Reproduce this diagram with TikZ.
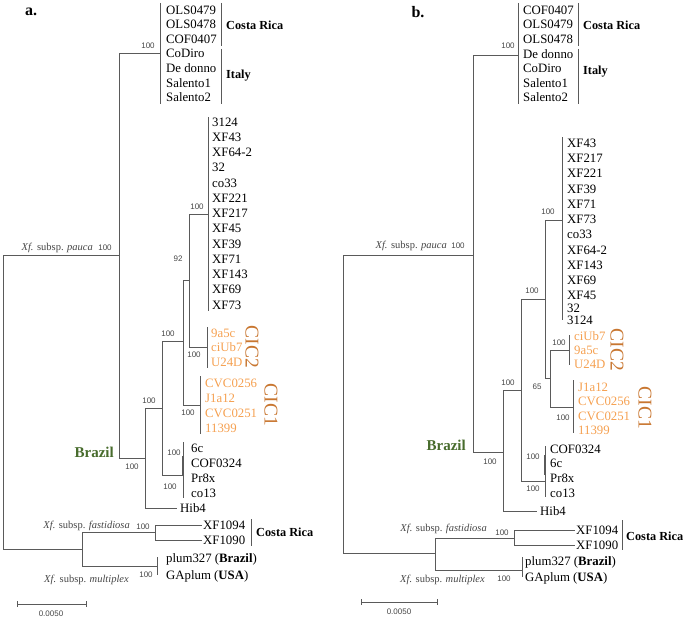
\documentclass[tikz,border=0pt]{standalone}
\usepackage{fontspec}
\setmainfont{Liberation Serif}
\newfontfamily\numfont{Liberation Sans}
\definecolor{linec}{RGB}{90,90,90}
\definecolor{bootc}{RGB}{70,70,70}
\definecolor{orangeL}{RGB}{245,160,80}
\definecolor{orangeD}{RGB}{200,118,48}
\definecolor{greenB}{RGB}{72,108,45}
\begin{document}
\begin{tikzpicture}[x=1pt,y=-1pt,
  lnk/.style={draw=linec, line width=1pt},
  leaf/.style={anchor=west, inner sep=0pt, font=\fontsize{12.8}{14}\selectfont, text=black},
  oleaf/.style={leaf, text=orangeL},
  boot/.style={inner sep=0pt, font=\numfont\fontsize{8}{9}\selectfont, text=bootc},
  grp/.style={anchor=west, inner sep=0pt, font=\bfseries\fontsize{12.3}{14}\selectfont},
  cic/.style={rotate=-90, inner sep=0pt, font=\fontsize{19.5}{20}\selectfont, text=orangeD},
  subsp/.style={anchor=east, inner sep=0pt, font=\fontsize{10.5}{12}\selectfont, text=bootc},
  brz/.style={anchor=east, inner sep=0pt, font=\bfseries\fontsize{15}{17}\selectfont, text=greenB},
  panel/.style={inner sep=0pt, font=\bfseries\fontsize{16}{18}\selectfont},
  scl/.style={inner sep=0pt, font=\numfont\fontsize{8}{9}\selectfont, text=bootc}]
\useasboundingbox (0,0) rectangle (685,618);

% ================= PANEL A =================
\node[panel] (alab) at (31,12) {a.};
% tree nodes
\coordinate (aRt) at (3,255);
\coordinate (aRb) at (3,549);
\coordinate (aP) at (119,255);
\coordinate (aTop) at (160,54);
\coordinate (aBr) at (145,458);
\coordinate (a1) at (162,408);
\coordinate (aHib) at (177,508);
\coordinate (a92) at (183,341);
\coordinate (a6c) at (183,475);
\coordinate (a2) at (189,280);
\coordinate (aCIC1) at (200,405);
\coordinate (aXF) at (208,214);
\coordinate (aCIC2) at (207,347);
\coordinate (aBot) at (82,549);
\coordinate (aFas) at (155,532);
\coordinate (aMul) at (157,566);
\coordinate (aX94) at (202,525);
\coordinate (aX90) at (202,540);
% branches
\draw[lnk] (aRt) -- (aRb);
\draw[lnk] (aRt) -- (aP);
\draw[lnk] (aRb) -- (aBot);
\draw[lnk] (aP) |- (aTop);
\draw[lnk] (aP) |- (aBr);
\draw[lnk] (aBr) |- (a1);
\draw[lnk] (aBr) |- (aHib);
\draw[lnk] (a1) |- (a92);
\draw[lnk] (a1) |- (a6c);
\draw[lnk] (a92) |- (a2);
\draw[lnk] (a92) |- (aCIC1);
\draw[lnk] (a2) |- (aXF);
\draw[lnk] (a2) |- (aCIC2);
\draw[lnk] (aBot) |- (aFas);
\draw[lnk] (aBot) |- (aMul);
\draw[lnk] (aFas) |- (aX94);
\draw[lnk] (aFas) |- (aX90);
% tip bars
\draw[lnk] (160,3) -- (160,104);
\draw[lnk] (208,117) -- (208,311);
\draw[lnk] (207,327) -- (207,368);
\draw[lnk] (200,376) -- (200,434);
\draw[lnk] (183,442) -- (183,498);
\draw[draw=linec, line width=2pt] (183,456) -- (183,476);
\draw[lnk] (157,557) -- (157,575);
% group bars
\draw[lnk] (221,3) -- (221,46);
\draw[lnk] (221,49) -- (221,104);
\draw[lnk] (251,519) -- (251,546);
% top labels
\foreach \t [count=\i from 0] in {OLS0479,OLS0478,COF0407,CoDiro,De donno,Salento1,Salento2}
  \node[leaf] (atop\i) at (166,{10+14.6*\i}) {\t};
\node[grp] (aCR) at (226,25) {Costa Rica};
\node[grp] (aIT) at (226,76) {Italy};
\node[boot] (ab1) at (148,46) {100};
% XF list
\foreach \t [count=\i from 0] in {3124,XF43,XF64-2,32,co33,XF221,XF217,XF45,XF39,XF71,XF143,XF69,XF73}
  \node[leaf] (axf\i) at (212,{122+15.25*\i}) {\t};
\node[boot] (ab2) at (197,207) {100};
\node[boot] (ab3) at (178,259) {92};
% CIC2
\foreach \t [count=\i from 0] in {9a5c,ciUb7,U24D}
  \node[oleaf] (ac2\i) at (211,{333+14.5*\i}) {\t};
\node[boot] (ab4) at (194,355) {100};
\node[cic] (aC2) at (252,347) {CIC2};
% CIC1
\foreach \t [count=\i from 0] in {CVC0256,J1a12,CVC0251,11399}
  \node[oleaf] (ac1\i) at (205,{383+15*\i}) {\t};
\node[boot] (ab5) at (188,413) {100};
\node[cic] (aC1) at (271,405) {CIC1};
\node[boot] (ab6) at (168,334) {100};
% 6c group
\foreach \t [count=\i from 0] in {6c,COF0324,Pr8x,co13}
  \node[leaf] (a6\i) at (191,{448+15*\i}) {\t};
\node[boot] (ab7) at (174,453) {100};
\node[boot] (ab8) at (170,487) {100};
\node[boot] (ab9) at (149,401) {100};
\node[boot] (ab10) at (132,467) {100};
\node[brz] (aBrz) at (114,452) {Brazil};
\node[leaf] (aHibl) at (180,508) {Hib4};
\node[subsp] (apau) at (93,248) {\textit{Xf.} subsp. \textit{pauca}};
\node[boot] (ab11) at (105,248) {100};
% bottom
\node[subsp] (afas) at (130,526) {\textit{Xf.} subsp. \textit{fastidiosa}};
\node[boot] (ab12) at (143,527) {100};
\node[leaf] (ax94l) at (203,525) {XF1094};
\node[leaf] (ax90l) at (203,540) {XF1090};
\node[grp] (aCR2) at (256,532) {Costa Rica};
\node[leaf] (aplum) at (166,559) {plum327 (\textbf{Brazil})};
\node[leaf] (agap) at (166,576) {GAplum (\textbf{USA})};
\node[subsp] (amul) at (129,580) {\textit{Xf.} subsp. \textit{multiplex}};
\node[boot] (ab13) at (146,575) {100};
% scale
\coordinate (asL) at (17,604);
\coordinate (asR) at (86,604);
\draw[lnk] (asL) -- (asR);
\draw[lnk] (17,601) -- (17,607);
\draw[lnk] (86,601) -- (86,607);
\node[scl] (asc) at (51,614) {0.0050};

% ================= PANEL B =================
\node[panel] (blab) at (418,12) {b.};
\coordinate (bRt) at (343,255);
\coordinate (bRb) at (343,553);
\coordinate (bP) at (473,255);
\coordinate (bTop) at (518,56);
\coordinate (bBr) at (503,452);
\coordinate (b1) at (521,390);
\coordinate (bHib) at (537,511);
\coordinate (bA) at (545,299);
\coordinate (b6c) at (545,481);
\coordinate (bXF) at (562,220);
\coordinate (bB) at (550,378);
\coordinate (bCIC2) at (569,350);
\coordinate (bCIC1) at (573,407);
\coordinate (bBot) at (435,553);
\coordinate (bFas) at (514,538);
\coordinate (bMul) at (522,570);
\coordinate (bX94) at (575,530);
\coordinate (bX90) at (575,545);
\draw[lnk] (bRt) -- (bRb);
\draw[lnk] (bRt) -- (bP);
\draw[lnk] (bRb) -- (bBot);
\draw[lnk] (bP) |- (bTop);
\draw[lnk] (bP) |- (bBr);
\draw[lnk] (bBr) |- (b1);
\draw[lnk] (bBr) |- (bHib);
\draw[lnk] (b1) |- (bA);
\draw[lnk] (b1) |- (b6c);
\draw[lnk] (bA) |- (bXF);
\draw[lnk] (bA) |- (bB);
\draw[lnk] (bB) |- (bCIC2);
\draw[lnk] (bB) |- (bCIC1);
\draw[lnk] (bBot) |- (bFas);
\draw[lnk] (bBot) |- (bMul);
\draw[lnk] (bFas) |- (bX94);
\draw[lnk] (bFas) |- (bX90);
% tip bars
\draw[lnk] (518,3) -- (518,104);
\draw[lnk] (562,137) -- (562,320);
\draw[lnk] (569,335) -- (569,365);
\draw[lnk] (573,380) -- (573,433);
\draw[lnk] (545,446) -- (545,497);
\draw[draw=linec, line width=2pt] (545,455) -- (545,475);
\draw[lnk] (522,557) -- (522,577);
% group bars
\draw[lnk] (578,3) -- (578,46);
\draw[lnk] (578,49) -- (578,104);
\draw[lnk] (622,520) -- (622,550);
% top labels
\foreach \t [count=\i from 0] in {COF0407,OLS0479,OLS0478,De donno,CoDiro,Salento1,Salento2}
  \node[leaf] (btop\i) at (523,{10+14.6*\i}) {\t};
\node[grp] (bCR) at (583,25) {Costa Rica};
\node[grp] (bIT) at (583,72) {Italy};
\node[boot] (bb1) at (508,46) {100};
% XF list
\foreach \t/\yy [count=\i from 0] in {XF43/143,XF217/158,XF221/173,XF39/189,XF71/204,XF73/219,co33/234,XF64-2/250,XF143/265,XF69/280,XF45/295,32/308,3124/320}
  \node[leaf] (bxf\i) at (567,\yy) {\t};
\node[boot] (bb2) at (548,212) {100};
% CIC2
\foreach \t [count=\i from 0] in {ciUb7,9a5c,U24D}
  \node[oleaf] (bc2\i) at (574,{336+14*\i}) {\t};
\node[boot] (bb3) at (559,343) {100};
\node[cic] (bC2) at (617,350) {CIC2};
% CIC1
\foreach \t [count=\i from 0] in {J1a12,CVC0256,CVC0251,11399}
  \node[oleaf] (bc1\i) at (578,{387+14.5*\i}) {\t};
\node[boot] (bb4) at (563,418) {100};
\node[cic] (bC1) at (645,408) {CIC1};
\node[boot] (bb5) at (537,387) {65};
\node[boot] (bb6) at (532,291) {100};
\node[boot] (bb7) at (508,383) {100};
% 6c group
\foreach \t [count=\i from 0] in {COF0324,6c,Pr8x,co13}
  \node[leaf] (b6\i) at (550,{449+14.7*\i}) {\t};
\node[boot] (bb8) at (533,457) {100};
\node[boot] (bb9) at (533,489) {100};
\node[boot] (bb10) at (490,462) {100};
\node[brz] (bBrz) at (466,445) {Brazil};
\node[leaf] (bHibl) at (540,511) {Hib4};
\node[subsp] (bpau) at (447,246) {\textit{Xf.} subsp. \textit{pauca}};
\node[boot] (bb11) at (458,246) {100};
% bottom
\node[subsp] (bfas) at (487,529) {\textit{Xf.} subsp. \textit{fastidiosa}};
\node[boot] (bb12) at (502,533) {100};
\node[leaf] (bx94l) at (576,530) {XF1094};
\node[leaf] (bx90l) at (576,545) {XF1090};
\node[grp] (bCR2) at (626,536) {Costa Rica};
\node[leaf] (bplum) at (525,562) {plum327 (\textbf{Brazil})};
\node[leaf] (bgap) at (525,578) {GAplum (\textbf{USA})};
\node[subsp] (bmul) at (485,580) {\textit{Xf.} subsp. \textit{multiplex}};
\node[boot] (bb13) at (504,579) {100};
% scale
\coordinate (bsL) at (361,602);
\coordinate (bsR) at (437,602);
\draw[lnk] (bsL) -- (bsR);
\draw[lnk] (361,599) -- (361,605);
\draw[lnk] (437,599) -- (437,605);
\node[scl] (bsc) at (399,612) {0.0050};
\end{tikzpicture}
\end{document}
